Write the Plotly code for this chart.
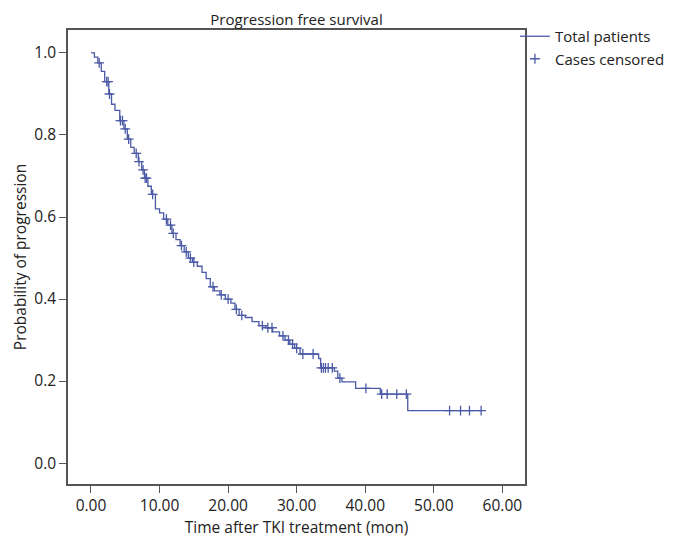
import numpy as np
import plotly.graph_objects as go

# Kaplan-Meier step curve (time in months, survival probability after each step)
step_times = [0, 0.5, 1.0, 1.5, 2.0, 2.6, 3.0, 3.5, 4.2, 4.8, 5.3, 5.8, 6.3, 6.9, 7.4, 7.8,
              8.3, 8.8, 9.4, 10.0, 10.6, 11.2, 11.8, 12.4, 13.0, 13.6, 14.2, 14.8, 15.5,
              16.2, 16.8, 17.4, 18.0, 18.8, 19.6, 20.4, 21.0, 21.6, 22.5, 23.5, 24.5, 25.5,
              26.5, 27.5, 28.3, 29.0, 29.7, 30.5, 33.2, 33.5, 35.5, 36.0, 36.6, 38.6, 42.2,
              46.2, 56.9]
step_surv = [1.0, 0.99, 0.976, 0.955, 0.93, 0.9, 0.875, 0.86, 0.835, 0.815, 0.79, 0.77, 0.755,
             0.735, 0.715, 0.695, 0.675, 0.655, 0.62, 0.61, 0.595, 0.58, 0.56, 0.545, 0.53,
             0.515, 0.50, 0.49, 0.48, 0.465, 0.45, 0.43, 0.42, 0.41, 0.40, 0.39, 0.375, 0.36,
             0.355, 0.345, 0.335, 0.33, 0.32, 0.31, 0.30, 0.29, 0.28, 0.266, 0.255, 0.232,
             0.224, 0.207, 0.198, 0.182, 0.168, 0.128, 0.128]

# censored observation times (months)
censor_times = [1.2, 2.3, 2.5, 2.7, 4.3, 4.6, 5.0, 5.5, 6.6, 7.0, 7.6, 7.9, 8.1, 9.0, 11.0,
                11.6, 12.0, 13.2, 13.9, 14.5, 15.0, 17.8, 19.0, 20.0, 21.2, 22.0, 25.0, 25.8,
                26.4, 28.0, 28.8, 29.4, 30.0, 30.9, 32.4, 33.6, 33.9, 34.2, 34.6, 35.2, 36.3,
                40.1, 42.4, 43.2, 44.6, 46.0, 52.3, 53.9, 55.2, 56.9]

x_ticks = [0, 10, 20, 30, 40, 50, 60]
y_ticks = [0.0, 0.2, 0.4, 0.6, 0.8, 1.0]

st = np.array(step_times)
ss = np.array(step_surv)
idx = np.searchsorted(st, np.array(censor_times), side="right") - 1
censor_surv = ss[idx]

col = "#4b5aa6"
font = "Open Sans"

# page has an 8px body margin; size the figure to fit the window
W, H = 675, 531
L, R, T, B = 60, 158, 22, 55

fig = go.Figure()
fig.add_trace(go.Scatter(x=step_times, y=step_surv, mode="lines", line_shape="hv",
                         line=dict(color=col, width=1.3), name="Total patients"))
fig.add_trace(go.Scatter(x=censor_times, y=censor_surv, mode="markers",
                         marker=dict(symbol="cross-thin", size=7,
                                     line=dict(color=col, width=1.3)),
                         name="Cases censored"))

plot_h = H - T - B
fig.update_layout(
    width=W, height=H,
    margin=dict(l=L, r=R, t=T, b=B),
    paper_bgcolor="white", plot_bgcolor="white",
    font=dict(family=font, size=15.5, color="#222"),
    title=dict(text="Progression free survival", x=(L + (W - R)) / 2 / W, xanchor="center",
               y=1 - 12 / H, yanchor="middle", font=dict(size=15)),
    legend=dict(x=0.978, y=1 + 10 / plot_h, xanchor="left", yanchor="top",
                bgcolor="rgba(0,0,0,0)", font=dict(size=15), tracegroupgap=0),
    xaxis=dict(range=[-3.35, 63.3], tickvals=x_ticks, tickformat=".2f",
               showline=True, mirror=True, linecolor="#555", linewidth=1.5,
               ticks="outside", ticklen=7, tickcolor="#555", showgrid=False, zeroline=False,
               tickfont=dict(size=15.5),
               title=dict(text="Time after TKI treatment (mon)", standoff=0,
                          font=dict(size=15.5))),
    yaxis=dict(range=[-0.051, 1.056], tickvals=y_ticks, tickformat=".1f",
               showline=True, mirror=True, linecolor="#555", linewidth=1.5,
               ticks="outside", ticklen=7, tickcolor="#555", showgrid=False, zeroline=False,
               tickfont=dict(size=15.5),
               title=dict(text="Probability of progression", standoff=4,
                          font=dict(size=15.5))),
)

fig.write_html("out.html")
